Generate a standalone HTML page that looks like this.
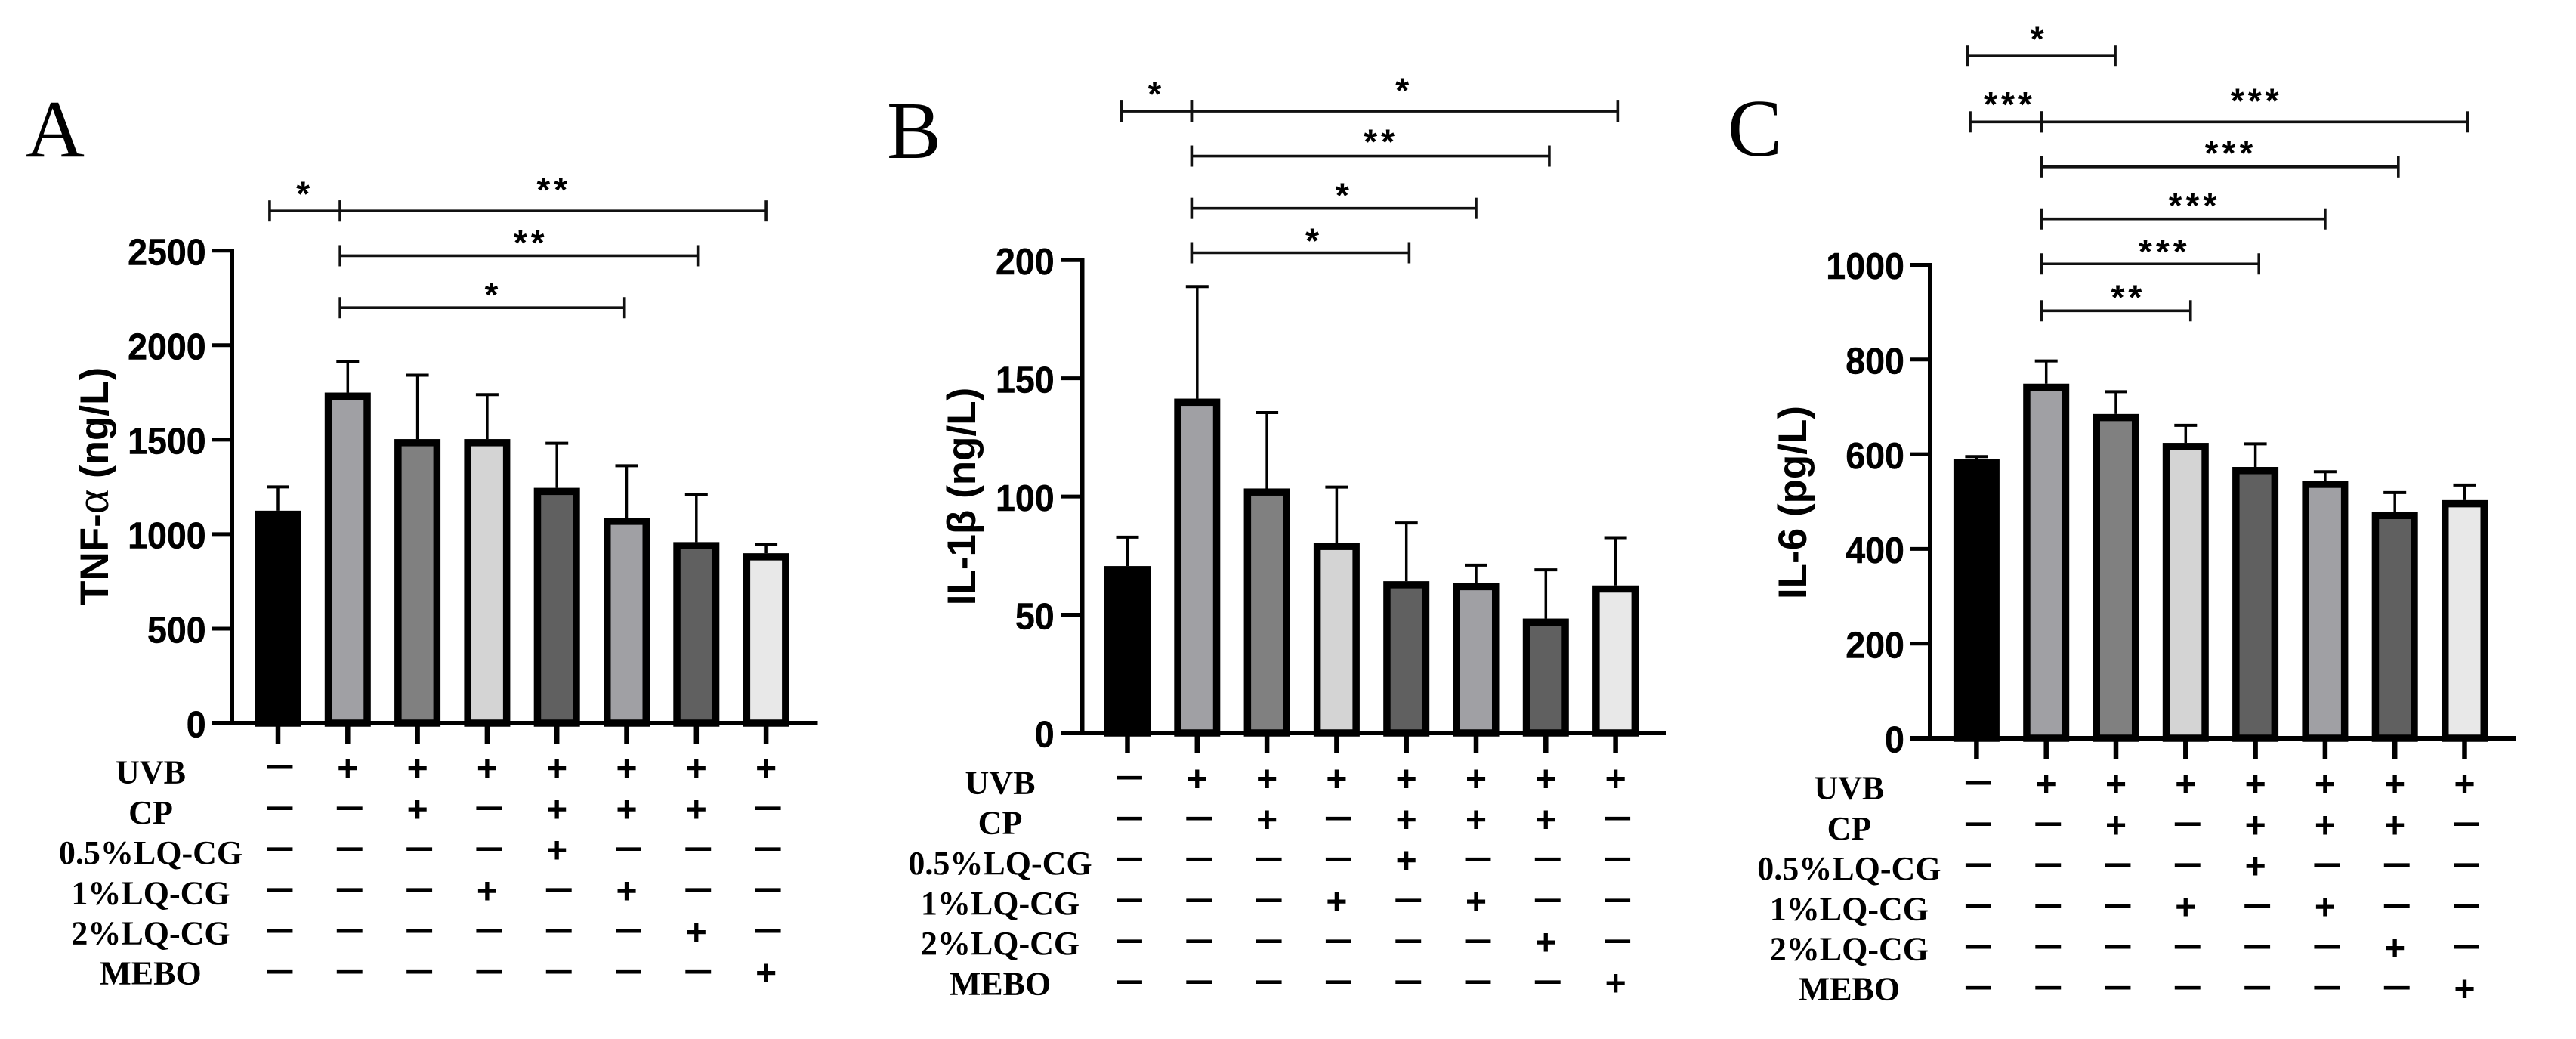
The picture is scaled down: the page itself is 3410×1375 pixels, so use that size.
<!DOCTYPE html>
<html lang="en">
<head>
<meta charset="utf-8">
<title>TNF-α, IL-1β and IL-6 bar charts</title>
<style>
html,body{margin:0;padding:0;background:#fff;}
#figure{display:block;width:3410px;height:1375px;background:#fff;}
</style>
</head>
<body>
<svg id="figure" xmlns="http://www.w3.org/2000/svg" width="3410" height="1375" viewBox="0 0 3410 1375"></svg>
<script>
// ---------- data ----------
const groupFills = ['#000000', '#a0a0a4', '#808080', '#d4d4d4', '#606060', '#a0a0a4', '#606060', '#e8e8e8'];
const rowLabels = ['UVB', 'CP', '0.5%LQ-CG', '1%LQ-CG', '2%LQ-CG', 'MEBO'];
const rowSigns = ['-+++++++', '--+-+++-', '----+---', '---+-+--', '------+-', '-------+'];

const tnfMeans = [1124, 1749, 1503, 1503, 1245, 1087, 958, 899];
const tnfUpper = [1250, 1912, 1841, 1738, 1481, 1362, 1208, 944];
const tnfTicks = [0, 500, 1000, 1500, 2000, 2500];
const tnfBrackets = [[-0.12, 0.89, 2710], [0.89, 7, 2710], [0.89, 6.02, 2473], [0.89, 4.97, 2198]];
const tnfStars = [['*', 0.36, 2828], ['**', 3.93, 2850], ['**', 3.6, 2570], ['*', 3.06, 2294]];

const il1bMeans = [70.6, 141.4, 103.4, 80.4, 64.2, 63.4, 48.4, 62.4];
const il1bUpper = [82.8, 188.8, 135.5, 104, 88.8, 71, 69, 82.6];
const il1bTicks = [0, 50, 100, 150, 200];
const il1bBrackets = [[-0.09, 0.92, 263], [0.92, 7.03, 263], [0.92, 6.05, 244], [0.92, 5.0, 221.9], [0.92, 4.04, 203.1]];
const il1bStars = [['*', 0.39, 272.3], ['*', 3.94, 273.9], ['**', 3.61, 252.2], ['*', 3.08, 229.6], ['*', 2.65, 210.3]];

const il6Means = [589, 749, 685, 624, 573, 544, 478, 503];
const il6Upper = [595, 797, 732, 661, 622, 563, 519, 535];
const il6Ticks = [0, 200, 400, 600, 800, 1000];
const il6Brackets = [[-0.13, 1.99, 1441], [-0.09, 0.93, 1302], [0.93, 7.04, 1302], [0.93, 6.05, 1207], [0.93, 5.0, 1097], [0.93, 4.05, 1002], [0.93, 3.07, 903]];
const il6Stars = [['*', 0.87, 1488], ['***', 0.45, 1350], ['***', 3.99, 1357], ['***', 3.62, 1247], ['***', 3.10, 1136], ['***', 2.67, 1039], ['**', 2.15, 942]];

// ---------- drawing ----------
const SVG_NS = 'http://www.w3.org/2000/svg';
const SANS = '"Liberation Sans", Arial, sans-serif';
const SERIF = '"Liberation Serif", "Times New Roman", serif';
const fig = document.getElementById('figure');

function mk(parent, tag, attrs, text) {
  const el = document.createElementNS(SVG_NS, tag);
  for (const k in attrs) el.setAttribute(k, attrs[k]);
  if (text !== undefined) el.textContent = text;
  parent.appendChild(el);
  return el;
}

function drawPanel(p) {
  const g = mk(fig, 'g', {});
  
  

  const xPos = i => p.x0 + i * p.dx;
  const yPos = v => p.y0 - v * (p.y0 - p.yTop) / p.yMax;

  // panel letter
  const letter = mk(g, 'text', {x: p.letterX, y: p.letterY, 'font-family': SERIF, 'font-size': 108, fill: '#000'}, p.letter);
  
  

  // error bars
  p.means.forEach((m, i) => {
    const cx = xPos(i);
    const err = mk(g, 'g', {stroke: '#000', fill: 'none'});
    
    
    mk(err, 'line', {x1: cx, x2: cx, y1: yPos(m), y2: yPos(p.upper[i]), 'stroke-width': 3.5});
    mk(err, 'line', {x1: cx - 15, x2: cx + 15, y1: yPos(p.upper[i]), y2: yPos(p.upper[i]), 'stroke-width': 4});
  });

  // bars
  p.means.forEach((m, i) => {
    const cx = xPos(i);
    const sw = 9.5;
    const bar = mk(g, 'rect', {
      x: cx - 30.5 + sw / 2,
      y: yPos(m) + sw / 2,
      width: 61 - sw,
      height: p.y0 - yPos(m) - sw / 2,
      fill: groupFills[i],
      stroke: '#000',
      'stroke-width': sw
    });
    
    
  });

  // y axis
  const yAxis = mk(g, 'line', {x1: p.axisX, x2: p.axisX, y1: yPos(p.yMax) - 2.5, y2: p.y0, stroke: '#000', 'stroke-width': 6});
  
  

  p.ticks.forEach(t => {
    const tick = mk(g, 'line', {x1: p.axisLeft, x2: p.axisX, y1: yPos(t), y2: yPos(t), stroke: '#000', 'stroke-width': 5});
    
    
    const s = String(t);
    const lab = mk(g, 'text', {
      x: p.labelRight - s.length * 25.9,
      y: yPos(t) + 18.7,
      textLength: s.length * 25.9,
      lengthAdjust: 'spacingAndGlyphs',
      'font-family': SANS,
      'font-weight': 'bold',
      'font-size': 49,
      stroke: '#000',
      'stroke-width': 0.5,
      fill: '#000'
    }, s);
    
    
  });

  // x axis
  const xAxis = mk(g, 'line', {x1: p.axisLeft, x2: p.axisRight, y1: p.y0, y2: p.y0, stroke: '#000', 'stroke-width': 6});
  
  

  p.means.forEach((m, i) => {
    const tick = mk(g, 'line', {x1: xPos(i), x2: xPos(i), y1: p.y0, y2: p.y0 + 27, stroke: '#000', 'stroke-width': 6.5});
    
    
  });

  // y axis title
  const title = mk(g, 'text', {
    transform: 'translate(' + p.titleX + ' ' + p.titleY + ') rotate(-90)',
    'text-anchor': 'middle',
    'font-family': SANS,
    'font-weight': 'bold',
    'font-size': 53,
    fill: '#000',
    'xml:space': 'preserve'
  });
  
  
  p.titleParts.forEach(part => {
    const attrs = part[1] ? {'font-family': SERIF, 'font-weight': 'normal', 'font-size': 62} : {};
    mk(title, 'tspan', attrs, part[0]);
  });

  // significance brackets
  p.brackets.forEach(b => {
    const x1 = xPos(b[0]);
    const x2 = xPos(b[1]);
    const y = yPos(b[2]);
    const br = mk(g, 'g', {stroke: '#111', 'stroke-width': 3.6, fill: 'none'});
    
    
    mk(br, 'line', {x1: x1, x2: x2, y1: y, y2: y});
    mk(br, 'line', {x1: x1, x2: x1, y1: y - 14, y2: y + 14});
    mk(br, 'line', {x1: x2, x2: x2, y1: y - 14, y2: y + 14});
  });
  p.stars.forEach(s => {
    const star = mk(g, 'text', {
      x: xPos(s[1]) + 2.5,
      y: yPos(s[2]) + 22.7,
      'text-anchor': 'middle',
      'font-family': SANS,
      'font-weight': 'bold',
      'font-size': 46,
      'letter-spacing': 5,
      fill: '#000'
    }, s[0]);
    
    
  });

  // treatment table
  rowLabels.forEach((label, r) => {
    const lab = mk(g, 'text', {x: p.x0 - 168.5, y: p.rowY + 20 + r * 53.2, 'text-anchor': 'middle', 'font-family': SERIF, 'font-weight': 'bold', 'font-size': 44, fill: '#000'}, label);
    
    
    const y = p.rowY + r * 54.15;
    rowSigns[r].split('').forEach((sign, i) => {
      let el;
      if (sign === '+') {
        el = mk(g, 'text', {x: xPos(i), y: y + 16.5, 'text-anchor': 'middle', 'font-family': SANS, 'font-weight': 'bold', 'font-size': 48, fill: '#000'}, '+');
      } else {
        el = mk(g, 'text', {x: xPos(i) + 2.5, y: y + 14, 'text-anchor': 'middle', 'font-family': SERIF, 'font-weight': 'bold', 'font-size': 66, fill: '#000'}, '\u2013');
      }
      
      
    });
  });
}

drawPanel({
  panelName: 'panel-a-tnf-alpha', letter: 'A', letterX: 34, letterY: 207,
  means: tnfMeans, upper: tnfUpper, ticks: tnfTicks, brackets: tnfBrackets, stars: tnfStars,
  yMax: 2500, x0: 368, dx: 92.3, y0: 957, yTop: 331.7,
  axisX: 307, axisLeft: 280, axisRight: 1082.5, labelRight: 272.7,
  titleX: 143, titleY: 643.4, titleParts: [['TNF-'], ['\u03b1', true], ['  (ng/L)']],
  rowY: 1016.7
});
drawPanel({
  panelName: 'panel-b-il-1-beta', letter: 'B', letterX: 1174, letterY: 209,
  means: il1bMeans, upper: il1bUpper, ticks: il1bTicks, brackets: il1bBrackets, stars: il1bStars,
  yMax: 200, x0: 1492.5, dx: 92.3, y0: 970, yTop: 344.2,
  axisX: 1432.5, axisLeft: 1404.5, axisRight: 2206, labelRight: 1395.7,
  titleX: 1291, titleY: 657, titleParts: [['IL-1\u03b2 (ng/L)']],
  rowY: 1030.4
});
drawPanel({
  panelName: 'panel-c-il-6', letter: 'C', letterX: 2287, letterY: 206,
  means: il6Means, upper: il6Upper, ticks: il6Ticks, brackets: il6Brackets, stars: il6Stars,
  yMax: 1000, x0: 2616.4, dx: 92.3, y0: 977, yTop: 350.5,
  axisX: 2555, axisLeft: 2529, axisRight: 3330, labelRight: 2520.9,
  titleX: 2391, titleY: 665, titleParts: [['IL-6 (pg/L)']],
  rowY: 1037.7
});
</script>
</body>
</html>
